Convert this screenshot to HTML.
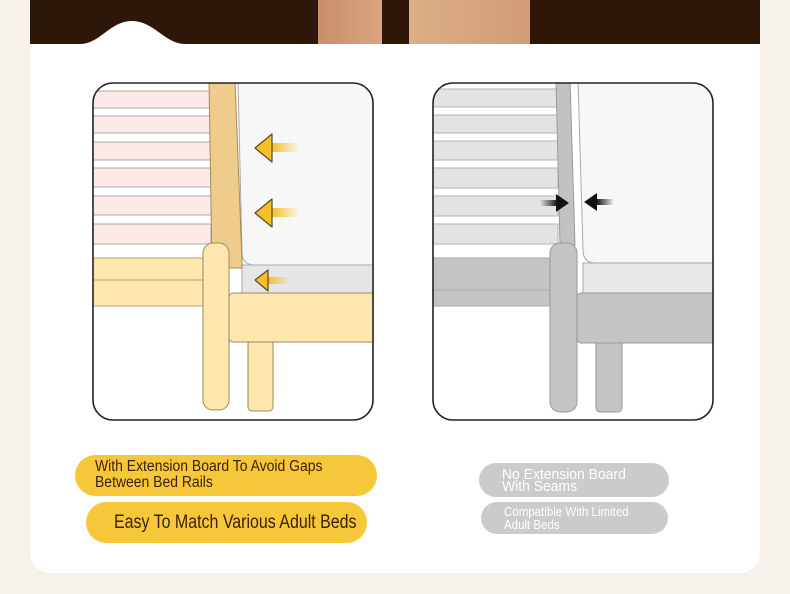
<!DOCTYPE html>
<html><head><meta charset="utf-8"><style>
body{margin:0;width:790px;height:594px;background:#f6f1ea;overflow:hidden;font-family:"Liberation Sans",sans-serif}
.pill{position:absolute;border-radius:22px;box-sizing:border-box;white-space:nowrap}
.pill span{display:inline-block;transform-origin:0 0}
</style></head><body>
<svg width="790" height="594" style="position:absolute;left:0;top:0">
<defs>
<linearGradient id="wd" x1="0" x2="1"><stop offset="0" stop-color="#c98f68"/><stop offset="1" stop-color="#d9a57e"/></linearGradient>
<linearGradient id="wd2" x1="0" x2="1"><stop offset="0" stop-color="#dcae86"/><stop offset="1" stop-color="#d29c74"/></linearGradient>
<linearGradient id="ya" x1="0" x2="1"><stop offset="0" stop-color="#f5bf2a"/><stop offset="1" stop-color="#f5bf2a" stop-opacity="0"/></linearGradient>
<linearGradient id="ka" x1="0" x2="1"><stop offset="0" stop-color="#000" stop-opacity="0"/><stop offset="1" stop-color="#111"/></linearGradient>
<linearGradient id="kb" x1="0" x2="1"><stop offset="0" stop-color="#111"/><stop offset="1" stop-color="#000" stop-opacity="0"/></linearGradient>
<clipPath id="c1"><rect x="93" y="83" width="280" height="337" rx="20"/></clipPath>
<clipPath id="c2"><rect x="433" y="83" width="280" height="337" rx="20"/></clipPath>
</defs>
<path d="M30 0H760V553a20 20 0 0 1-20 20H50a20 20 0 0 1-20-20Z" fill="#fff"/>
<rect x="30" y="0" width="730" height="44" fill="#2e1608"/>
<rect x="318" y="0" width="64" height="44" fill="url(#wd)"/>
<rect x="409" y="0" width="121" height="44" fill="url(#wd2)"/>
<path d="M80 44C100 44 110 21 132 21S165 44 185 44Z" fill="#fff"/>

<!-- LEFT PANEL -->
<g clip-path="url(#c1)">
<rect x="93" y="83" width="280" height="337" fill="#fff"/>
<g fill="#fdeae8" stroke="#a9a9a9" stroke-width="1">
<rect x="90" y="91" width="121" height="17"/><rect x="90" y="116" width="121" height="17"/><rect x="90" y="142" width="121" height="18"/><rect x="90" y="168" width="121" height="19"/><rect x="90" y="196" width="121" height="19"/><rect x="90" y="224" width="121" height="20"/>
</g>
<path d="M238 80H380V265H255Q242 265 242 252Z" fill="#f7f7f7" stroke="#aaa"/>
<rect x="242" y="265" width="140" height="28" fill="#e6e6e6" stroke="#aaa"/>
<path d="M209 80H235L242 262V268H212Z" fill="#f0cc8c" stroke="#a88a58"/>
<rect x="90" y="258" width="118" height="22" fill="#fde7ae" stroke="#b9a070"/>
<rect x="90" y="280" width="118" height="26" fill="#fde7ae" stroke="#b9a070"/>
<rect x="203" y="243" width="26" height="167" rx="10" fill="#fde7ae" stroke="#9c8a60"/>
<rect x="248" y="340" width="25" height="71" rx="4" fill="#fde7ae" stroke="#9c8a60"/>
<rect x="229" y="293" width="150" height="49" rx="4" fill="#fde7ae" stroke="#9c8a60"/>
<g stroke="#5a4a20" stroke-width="1.2" stroke-linejoin="round">
<rect x="272" y="143" width="28" height="9" fill="url(#ya)" stroke="none"/>
<path d="M255 148L272 134V162Z" fill="#f5bf2a"/>
<rect x="272" y="208" width="28" height="9" fill="url(#ya)" stroke="none"/>
<path d="M255 213L272 199V227Z" fill="#f5bf2a"/>
<rect x="268" y="277" width="22" height="7" fill="url(#ya)" stroke="none"/>
<path d="M255 280L268 270V291Z" fill="#f5bf2a"/>
</g>
</g>
<rect x="93" y="83" width="280" height="337" rx="20" fill="none" stroke="#222" stroke-width="1.6"/>

<!-- RIGHT PANEL -->
<g clip-path="url(#c2)">
<rect x="433" y="83" width="280" height="337" fill="#fff"/>
<g fill="#e3e3e3" stroke="#b5b5b5" stroke-width="1">
<rect x="430" y="89" width="128" height="18"/><rect x="430" y="115" width="128" height="18"/><rect x="430" y="141" width="128" height="19"/><rect x="430" y="168" width="128" height="20"/><rect x="430" y="196" width="128" height="20"/><rect x="430" y="224" width="128" height="20"/>
</g>
<path d="M578 80H720V263H596Q583 263 583 250Z" fill="#f7f7f7" stroke="#aaa"/>
<rect x="583" y="263" width="140" height="30" fill="#e8e8e8" stroke="#aaa"/>
<path d="M556 80H570L575 245H560Z" fill="#c2c2c2" stroke="#999"/>
<rect x="430" y="258" width="123" height="32" fill="#c4c4c4" stroke="#aaa"/>
<rect x="430" y="290" width="123" height="16" fill="#c4c4c4" stroke="#aaa"/>
<rect x="550" y="243" width="27" height="169" rx="10" fill="#c4c4c4" stroke="#999"/>
<rect x="596" y="340" width="26" height="72" rx="4" fill="#c4c4c4" stroke="#999"/>
<rect x="577" y="293" width="145" height="50" rx="4" fill="#c4c4c4" stroke="#999"/>
<rect x="540" y="200" width="18" height="6" fill="url(#ka)"/>
<path d="M569 203L556 194V212Z" fill="#111"/>
<rect x="596" y="199" width="18" height="6" fill="url(#kb)"/>
<path d="M584 202L597 193V211Z" fill="#111"/>
</g>
<rect x="433" y="83" width="280" height="337" rx="20" fill="none" stroke="#222" stroke-width="1.6"/>
</svg>

<div class="pill" style="left:75px;top:455px;width:302px;height:41px;background:#f7c73a;color:#3a2200;font-size:15.5px;line-height:16px;padding:4px 0 0 20px"><span style="transform:scaleX(0.9)">With Extension Board To Avoid Gaps<br>Between Bed Rails</span></div>
<div class="pill" style="left:86px;top:502px;width:281px;height:41px;background:#f7c73a;color:#3a2200;font-size:19px;line-height:41px;padding-left:28px"><span style="transform:scaleX(0.84)">Easy To Match Various Adult Beds</span></div>
<div class="pill" style="left:479px;top:463px;width:190px;height:34px;background:#cbcbcb;color:#fff;font-size:14.5px;line-height:12px;padding:6px 0 0 23px"><span style="transform:scaleX(0.96)">No Extension Board<br>With Seams</span></div>
<div class="pill" style="left:481px;top:502px;width:187px;height:32px;background:#cbcbcb;color:#fff;font-size:12.5px;line-height:13px;padding:4px 0 0 23px"><span style="transform:scaleX(0.92)">Compatible With Limited<br>Adult Beds</span></div>
</body></html>
